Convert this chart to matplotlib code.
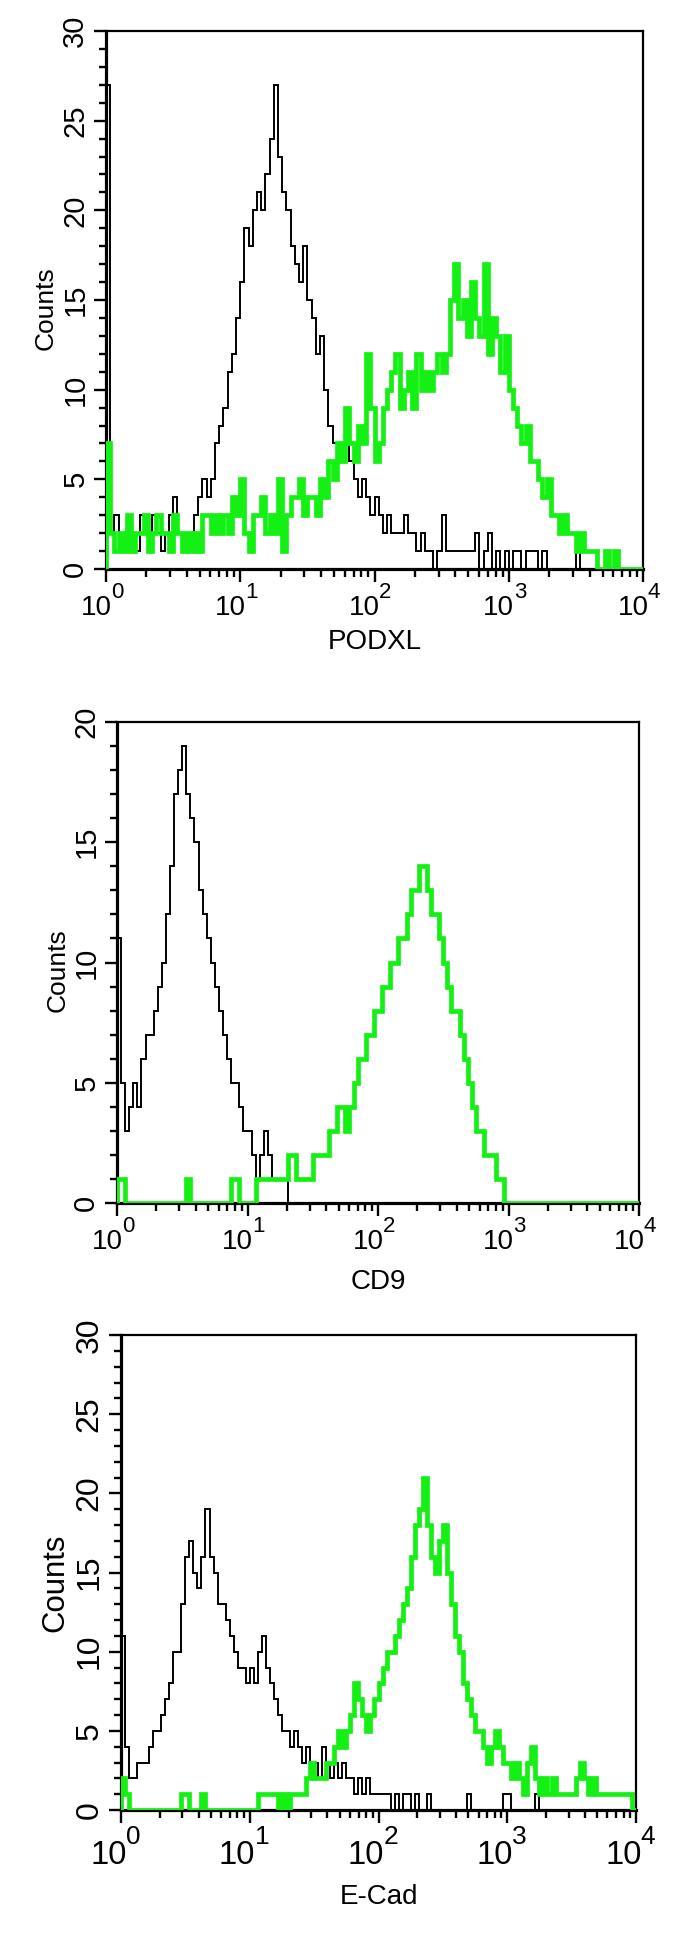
import numpy as np
import matplotlib
matplotlib.use("Agg")
from matplotlib import pyplot as plt
from matplotlib import font_manager
from matplotlib.ticker import LogLocator, MultipleLocator, NullFormatter

plt.rcParams['font.family'] = ['Liberation Sans', 'DejaVu Sans']
installed = {f.name for f in font_manager.fontManager.ttflist}
# the digits in the original are narrow; use the narrow face when present
digit_font = 'Liberation Sans Narrow' if 'Liberation Sans Narrow' in installed else 'Liberation Sans'

# 128 log channels over 4 decades (32 per decade)
n_channels = 128
edges = 10 ** (np.arange(n_channels + 1) * 4.0 / n_channels)

# PODXL: control (black) and stained (green) counts per channel
podxl_ctrl = [27, 2, 3, 1, 2, 3, 2, 1, 3, 2, 2, 3, 2, 1, 2, 3, 4, 2, 1, 2,
              2, 3, 4, 5, 4, 5, 7, 8, 9, 11, 12, 14, 16, 19, 18, 20, 21, 20, 22, 24,
              27, 23, 21, 20, 18, 17, 16, 18, 15, 14, 12, 13, 10, 8, 7, 7, 6, 7, 6, 5,
              4, 5, 4, 3, 4, 3, 2, 3, 2, 2, 2, 3, 2, 2, 1, 2, 1, 1, 0, 1,
              3, 1, 1, 1, 1, 1, 1, 1, 2, 0, 1, 2, 0, 1, 0, 1, 0, 1, 1, 0,
              1, 1, 1, 0, 1, 0, 0, 0, 0, 0, 0, 0, 1, 0, 0, 0, 0, 0, 0, 0,
              0, 0, 0, 0, 0, 0, 0, 0]
podxl_stain = [7, 2, 1, 2, 1, 3, 1, 2, 2, 3, 1, 2, 3, 2, 2, 1, 3, 2, 1, 2,
               1, 2, 1, 3, 3, 2, 3, 2, 3, 2, 4, 3, 5, 2, 1, 3, 3, 4, 2, 3,
               2, 5, 1, 3, 4, 4, 5, 3, 4, 4, 3, 5, 4, 6, 5, 7, 6, 9, 7, 6,
               8, 7, 12, 9, 6, 7, 9, 10, 11, 12, 9, 10, 11, 9, 12, 10, 11, 10, 11, 12,
               11, 12, 15, 17, 14, 15, 13, 16, 14, 13, 17, 12, 14, 13, 11, 13, 10, 9, 8, 7,
               8, 6, 6, 5, 4, 5, 3, 3, 2, 3, 2, 2, 1, 2, 1, 1, 1, 0, 0, 1,
               0, 1, 0, 0, 0, 0, 0, 0]

# CD9
cd9_ctrl = [11, 5, 3, 4, 5, 4, 6, 7, 7, 8, 9, 10, 12, 14, 17, 18, 19, 17, 16, 15,
            13, 12, 11, 10, 9, 8, 7, 6, 5, 5, 4, 3, 3, 2, 1, 2, 3, 2, 1, 1,
            1, 1, 0, 0, 0, 0, 0, 0, 0, 0, 0, 0, 0, 0, 0, 0, 0, 0, 0, 0,
            0, 0, 0, 0, 0, 0, 0, 0, 0, 0, 0, 0, 0, 0, 0, 0, 0, 0, 0, 0,
            0, 0, 0, 0, 0, 0, 0, 0, 0, 0, 0, 0, 0, 0, 0, 0, 0, 0, 0, 0,
            0, 0, 0, 0, 0, 0, 0, 0, 0, 0, 0, 0, 0, 0, 0, 0, 0, 0, 0, 0,
            0, 0, 0, 0, 0, 0, 0, 0]
cd9_stain = [1, 1, 0, 0, 0, 0, 0, 0, 0, 0, 0, 0, 0, 0, 0, 0, 0, 1, 0, 0,
             0, 0, 0, 0, 0, 0, 0, 0, 1, 1, 0, 0, 0, 0, 1, 1, 1, 1, 1, 1,
             1, 1, 2, 2, 1, 1, 1, 1, 2, 2, 2, 2, 3, 3, 4, 4, 3, 4, 5, 6,
             6, 7, 7, 8, 8, 9, 9, 10, 10, 11, 11, 12, 13, 13, 14, 14, 13, 12, 12, 11,
             10, 9, 8, 8, 7, 6, 5, 4, 3, 3, 2, 2, 2, 1, 1, 0, 0, 0, 0, 0,
             0, 0, 0, 0, 0, 0, 0, 0, 0, 0, 0, 0, 0, 0, 0, 0, 0, 0, 0, 0,
             0, 0, 0, 0, 0, 0, 0, 0]

# E-Cad
ecad_ctrl = [11, 4, 2, 2, 3, 3, 3, 4, 5, 5, 6, 7, 8, 10, 10, 13, 16, 17, 15, 14,
             16, 19, 16, 15, 13, 13, 12, 11, 10, 9, 9, 8, 9, 8, 10, 11, 9, 8, 7, 6,
             5, 5, 4, 5, 4, 3, 4, 3, 3, 2, 4, 3, 2, 3, 2, 3, 2, 2, 1, 2,
             1, 2, 1, 1, 1, 1, 1, 0, 1, 0, 1, 1, 0, 1, 0, 0, 1, 0, 0, 0,
             0, 0, 0, 0, 0, 0, 1, 0, 0, 0, 0, 0, 0, 0, 0, 1, 1, 0, 0, 0,
             0, 0, 0, 1, 0, 0, 0, 0, 0, 0, 0, 0, 0, 0, 0, 0, 0, 0, 0, 0,
             0, 0, 0, 0, 0, 0, 0, 1]
ecad_stain = [2, 1, 0, 0, 0, 0, 0, 0, 0, 0, 0, 0, 0, 0, 0, 1, 1, 0, 0, 0,
              1, 0, 0, 0, 0, 0, 0, 0, 0, 0, 0, 0, 0, 0, 1, 1, 1, 1, 1, 0,
              1, 0, 1, 1, 1, 1, 2, 3, 2, 2, 2, 3, 3, 4, 5, 4, 5, 6, 8, 7,
              6, 5, 6, 7, 8, 9, 10, 10, 11, 12, 13, 14, 16, 18, 19, 21, 18, 16, 15, 17,
              18, 15, 13, 11, 10, 8, 7, 6, 5, 5, 4, 3, 4, 5, 4, 3, 3, 2, 3, 2,
              1, 3, 4, 2, 1, 2, 1, 2, 1, 1, 1, 1, 1, 2, 3, 2, 1, 2, 1, 1,
              1, 1, 1, 1, 1, 1, 1, 0]

markers = ["PODXL", "CD9", "E-Cad"]
ctrl_sets = [podxl_ctrl, cd9_ctrl, ecad_ctrl]
stain_sets = [podxl_stain, cd9_stain, ecad_stain]
y_maxes = [30, 20, 30]
decades = [0, 1, 2, 3, 4]

# axes boxes in pixels: left, right, top, bottom; text scale per panel
boxes = [(106, 643, 31, 569), (117, 639, 722, 1203), (121, 636, 1335, 1810)]
text_scale = [1.0, 1.0, 1.18]
ytick_size = [21, 21, 23]
counts_x = [46, 58, 55]        # px, centre of "Counts"
counts_dy = [8, 8, 10]         # px below axes centre
xlabel_y = [642, 1282, 1897]   # px, centre of marker name

W, H = 685, 1936
fig = plt.figure(figsize=(W / 100, H / 100), dpi=100)
green = "#14f014"

for i, name in enumerate(markers):
    l, r, t, b = boxes[i]
    s = text_scale[i]
    ymax = y_maxes[i]
    aw, ah = r - l, b - t
    ax = fig.add_axes([l / W, 1 - b / H, aw / W, ah / H])
    ax.stairs(ctrl_sets[i], edges, color="black", linewidth=1.4, zorder=2)
    ax.stairs(stain_sets[i], edges, color=green, linewidth=3.4, zorder=3)
    ax.set_xscale("log")
    ax.set_xlim(1, 1e4)
    ax.set_ylim(0, ymax)

    ax.xaxis.set_major_locator(LogLocator(base=10, numticks=10))
    ax.xaxis.set_minor_locator(LogLocator(base=10, subs=np.arange(2, 10), numticks=20))
    ax.xaxis.set_major_formatter(NullFormatter())
    ax.xaxis.set_minor_formatter(NullFormatter())
    ax.yaxis.set_major_locator(MultipleLocator(5))
    ax.yaxis.set_minor_locator(MultipleLocator(1))

    for side in ["top", "right"]:
        ax.spines[side].set_linewidth(1.6)
    for side in ["left", "bottom"]:
        ax.spines[side].set_linewidth(2.3)

    ax.tick_params(axis="x", which="major", length=9, width=1.7)
    ax.tick_params(axis="x", which="minor", length=6, width=1.7)
    ax.tick_params(axis="y", which="major", length=9, width=1.7, pad=3,
                   labelsize=ytick_size[i], labelfontfamily=digit_font)
    ax.tick_params(axis="y", which="minor", length=5, width=1.7)
    plt.setp(ax.get_yticklabels(), rotation=90, va="center", ha="right")

    # decade labels written as "10" with a raised exponent
    for d in decades:
        ax.annotate("10", xy=(10 ** d, 0), xycoords=("data", "axes fraction"),
                    xytext=(4, -33 * s), textcoords="offset points", family=digit_font,
                    ha="right", va="baseline", fontsize=20 * s, annotation_clip=False)
        ax.annotate(str(d), xy=(10 ** d, 0), xycoords=("data", "axes fraction"),
                    xytext=(3.5, -21 * s), textcoords="offset points", family=digit_font,
                    ha="left", va="baseline", fontsize=16 * s, annotation_clip=False)

    ax.set_ylabel("Counts", fontsize=19 * s, va="center", ha="center")
    ax.yaxis.set_label_coords(-(l - counts_x[i]) / aw, 0.5 - counts_dy[i] / ah)
    ax.set_xlabel(name, fontsize=20, va="center", ha="center")
    ax.xaxis.set_label_coords(0.5, -(xlabel_y[i] - b) / ah)

fig.savefig("out.png", dpi=100)
